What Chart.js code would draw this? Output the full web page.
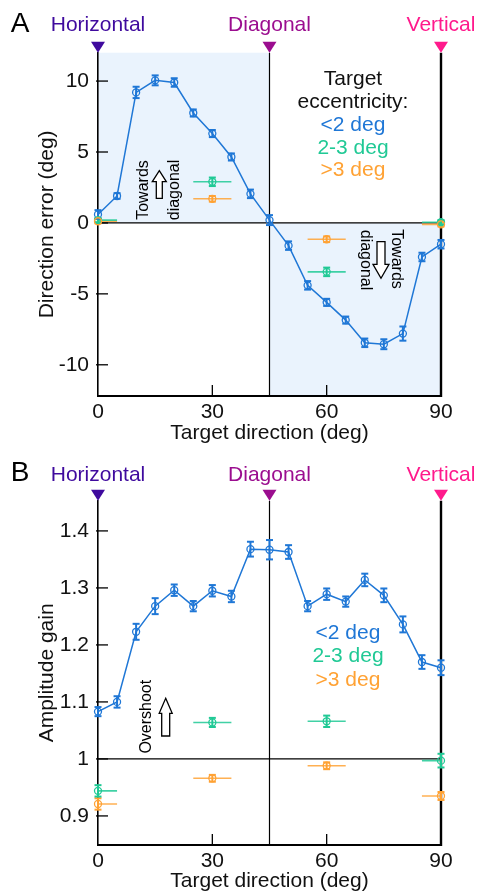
<!DOCTYPE html>
<html>
<head>
<meta charset="utf-8">
<title>Direction error and amplitude gain</title>
<script src="https://cdn.jsdelivr.net/npm/chart.js@4.4.1/dist/chart.umd.min.js"></script>
<style>
    html, body { margin: 0; padding: 0; background: #fff; }
    body { width: 478px; height: 895px; position: relative; overflow: hidden; }
    canvas { position: absolute; left: 0; }
    #chartA { top: 0; }
    #chartB { top: 448px; }
</style>
</head>
<body>
<canvas id="chartA" width="478" height="448"></canvas>
<canvas id="chartB" width="478" height="447"></canvas>
<script>
// target directions (deg): 5 deg bins for the near group, 4 bins for the far groups
const directions = [0, 5, 10, 15, 20, 25, 30, 35, 40, 45, 50, 55, 60, 65, 70, 75, 80, 85, 90];
const groupDirections = [0, 30, 60, 90];
const groupBinHalf = [5, 5, 5, 5];

// panel A - direction error (deg)
const dirErrNear = [0.6, 1.9, 9.2, 10.05, 9.9, 7.75, 6.3, 4.65, 2.05, 0.2, -1.6, -4.4, -5.6, -6.85, -8.45, -8.55, -7.8, -2.4, -1.5];
const dirErrNearSe = [0.3, 0.2, 0.4, 0.35, 0.3, 0.25, 0.25, 0.25, 0.3, 0.35, 0.3, 0.3, 0.25, 0.25, 0.3, 0.35, 0.5, 0.3, 0.3];
const dirErrMid = [0.2, 2.9, -3.45, 0.05];
const dirErrMidSe = [0.15, 0.3, 0.3, 0.15];
const dirErrFar = [0.12, 1.7, -1.15, -0.1];
const dirErrFarSe = [0.15, 0.2, 0.2, 0.15];

// panel B - amplitude gain
const gainNear = [1.083, 1.1, 1.223, 1.268, 1.296, 1.268, 1.295, 1.285, 1.368, 1.367, 1.363, 1.268, 1.289, 1.276, 1.314, 1.287, 1.236, 1.17, 1.16];
const gainNearSe = [0.008, 0.01, 0.014, 0.014, 0.01, 0.009, 0.01, 0.01, 0.013, 0.017, 0.012, 0.009, 0.01, 0.009, 0.011, 0.012, 0.014, 0.012, 0.013];
const gainMid = [0.944, 1.064, 1.066, 0.997];
const gainMidSe = [0.01, 0.008, 0.01, 0.012];
const gainFar = [0.921, 0.966, 0.988, 0.935];
const gainFarSe = [0.01, 0.006, 0.006, 0.007];

// tick labels
const dirTicks = [0, 30, 60, 90];
const errTicks = [-10, -5, 0, 5, 10];
const gainTicks = [0.9, 1, 1.1, 1.2, 1.3, 1.4];

const landmarkDirs = [0, 45, 90];
const landmarkNames = ['Horizontal', 'Diagonal', 'Vertical'];
const landmarkColors = ['#3f0a9e', '#9b0d8f', '#ff1a8c'];
const groupNames = ['<2 deg', '2-3 deg', '>3 deg'];
const groupColors = ['#1f77d6', '#20c995', '#ffa234'];

const FONT = '"Liberation Sans", Arial, Helvetica, sans-serif';
const INK = '#111';

function toPoints(xs, ys) {
    return xs.map((x, i) => ({x: x, y: ys[i]}));
}

function line(ctx, x0, y0, x1, y1) {
    ctx.beginPath();
    ctx.moveTo(x0, y0);
    ctx.lineTo(x1, y1);
    ctx.stroke();
}

// open block arrow, tip at tipY
function blockArrow(ctx, x, tipY, tailY, headHalf, shaftHalf, headLen) {
    const dir = tailY > tipY ? 1 : -1;
    const neck = tipY + dir * headLen;
    ctx.beginPath();
    ctx.moveTo(x, tipY);
    ctx.lineTo(x + headHalf, neck);
    ctx.lineTo(x + shaftHalf, neck);
    ctx.lineTo(x + shaftHalf, tailY);
    ctx.lineTo(x - shaftHalf, tailY);
    ctx.lineTo(x - shaftHalf, neck);
    ctx.lineTo(x - headHalf, neck);
    ctx.closePath();
    ctx.fillStyle = '#fff';
    ctx.fill();
    ctx.strokeStyle = '#000';
    ctx.lineWidth = 1.3;
    ctx.stroke();
}

function rotatedText(ctx, text, x, y, angle) {
    ctx.save();
    ctx.translate(x, y);
    ctx.rotate(angle);
    ctx.fillText(text, 0, 0);
    ctx.restore();
}

const panelDecor = {
    id: 'panelDecor',
    beforeDraw(chart, args, opts) {
        const ctx = chart.ctx;
        const xs = chart.scales.x, ys = chart.scales.y;
        ctx.save();
        ctx.fillStyle = '#eaf3fd';
        (opts.shade || []).forEach(r => {
            const x0 = xs.getPixelForValue(r[0]), x1 = xs.getPixelForValue(r[1]);
            const y0 = ys.getPixelForValue(r[2]), y1 = ys.getPixelForValue(r[3]);
            ctx.fillRect(x0, y1, x1 - x0, y0 - y1);
        });
        ctx.restore();
    },
    beforeDatasetsDraw(chart, args, opts) {
        const ctx = chart.ctx, area = chart.chartArea;
        const xs = chart.scales.x, ys = chart.scales.y;
        ctx.save();
        ctx.strokeStyle = '#000';

        // reference line (0 error / unit gain)
        ctx.lineWidth = 1.2;
        const yRef = ys.getPixelForValue(opts.refY);
        line(ctx, area.left, yRef, area.right, yRef);

        // diagonal and vertical markers
        line(ctx, xs.getPixelForValue(45), area.top, xs.getPixelForValue(45), area.bottom);
        ctx.lineWidth = 2.4;
        line(ctx, xs.getPixelForValue(90), area.top, xs.getPixelForValue(90), area.bottom + 1);

        // inward ticks
        ctx.lineWidth = 1.3;
        opts.yTicks.forEach(v => {
            const y = ys.getPixelForValue(v);
            line(ctx, area.left - 2, y, area.left + 10, y);
        });
        [30, 60].forEach(v => {
            const x = xs.getPixelForValue(v);
            line(ctx, x, area.bottom, x, area.bottom - 11);
        });

        // error bars
        chart.data.datasets.forEach(ds => {
            ds.data.forEach((p, i) => {
                const px = xs.getPixelForValue(p.x), py = ys.getPixelForValue(p.y);
                if (ds.xErr) {
                    ctx.save();
                    ctx.beginPath();
                    ctx.rect(area.left, area.top, area.right - area.left, area.bottom - area.top);
                    ctx.clip();
                    ctx.strokeStyle = ds.borderColor;
                    ctx.globalAlpha = 0.85;
                    ctx.lineWidth = 1.6;
                    line(ctx, xs.getPixelForValue(p.x - ds.xErr[i]), py, xs.getPixelForValue(p.x + ds.xErr[i]), py);
                    ctx.restore();
                }
                if (ds.yErr) {
                    const y0 = ys.getPixelForValue(p.y - ds.yErr[i]);
                    const y1 = ys.getPixelForValue(p.y + ds.yErr[i]);
                    ctx.strokeStyle = ds.borderColor;
                    ctx.lineWidth = 2;
                    line(ctx, px, y0, px, y1);
                    line(ctx, px - 3.5, y0, px + 3.5, y0);
                    line(ctx, px - 3.5, y1, px + 3.5, y1);
                }
            });
        });
        ctx.restore();
    },
    afterDraw(chart, args, opts) {
        const ctx = chart.ctx, area = chart.chartArea;
        const xs = chart.scales.x;
        ctx.save();
        ctx.textAlign = 'center';
        ctx.textBaseline = 'middle';

        // landmark triangles and names
        landmarkDirs.forEach((d, i) => {
            const x = xs.getPixelForValue(d);
            ctx.fillStyle = landmarkColors[i];
            ctx.beginPath();
            ctx.moveTo(x - 7, area.top - 11);
            ctx.lineTo(x + 7, area.top - 11);
            ctx.lineTo(x, area.top);
            ctx.closePath();
            ctx.fill();
            ctx.font = '21px ' + FONT;
            ctx.fillText(landmarkNames[i], x, opts.nameY);
        });

        // panel letter
        ctx.fillStyle = '#000';
        ctx.font = '28px ' + FONT;
        ctx.fillText(opts.letter, 20, opts.letterY);

        // group legend
        ctx.font = '21px ' + FONT;
        opts.legend.lines.forEach((t, i) => {
            ctx.fillStyle = t.color;
            ctx.fillText(t.text, opts.legend.x, opts.legend.y + i * opts.legend.step);
        });

        // annotations
        ctx.font = '16px ' + FONT;
        ctx.fillStyle = '#000';
        (opts.notes || []).forEach(n => rotatedText(ctx, n.text, n.x, n.y, n.angle));
        (opts.arrows || []).forEach(a => blockArrow(ctx, a.x, a.tip, a.tail, a.head, a.shaft, a.len));
        ctx.restore();
    }
};

function groupDatasets(near, nearSe, mid, midSe, far, farSe) {
    const base = {
        showLine: false,
        clip: false,
        pointStyle: 'circle',
        pointRadius: 3.5,
        pointBorderWidth: 1.3,
        pointBackgroundColor: 'rgba(255,255,255,0)'
    };
    return [
        Object.assign({}, base, {
            label: groupNames[2], data: toPoints(groupDirections, far),
            borderColor: groupColors[2], pointBorderColor: groupColors[2],
            yErr: farSe, xErr: groupBinHalf
        }),
        Object.assign({}, base, {
            label: groupNames[1], data: toPoints(groupDirections, mid),
            borderColor: groupColors[1], pointBorderColor: groupColors[1],
            yErr: midSe, xErr: groupBinHalf
        }),
        Object.assign({}, base, {
            label: groupNames[0], data: toPoints(directions, near),
            borderColor: groupColors[0], pointBorderColor: groupColors[0],
            showLine: true, borderWidth: 1.5, yErr: nearSe
        })
    ];
}

function makePanel(id, cfg) {
    const ctx = document.getElementById(id).getContext('2d');
    return new Chart(ctx, {
        type: 'scatter',
        data: {datasets: cfg.datasets},
        options: {
            responsive: false,
            animation: false,
            events: [],
            layout: {padding: {top: 52.7, right: 37, left: 0, bottom: 0}},
            plugins: {
                legend: {display: false},
                tooltip: {enabled: false},
                panelDecor: cfg.decor
            },
            scales: {
                x: {
                    type: 'linear',
                    min: 0,
                    max: 90,
                    afterBuildTicks: s => { s.ticks = dirTicks.map(v => ({value: v})); },
                    afterFit: s => { s.height = cfg.xHeight; },
                    grid: {display: false, drawTicks: false},
                    border: {display: true, color: '#000', width: 2},
                    ticks: {color: INK, font: {family: FONT, size: 21}, padding: 3.5, maxRotation: 0, autoSkip: false},
                    title: {display: true, text: 'Target direction (deg)', color: INK,
                        font: {family: FONT, size: 21}, padding: {top: 0, bottom: cfg.xTitlePad}}
                },
                y: {
                    type: 'linear',
                    min: cfg.yMin,
                    max: cfg.yMax,
                    afterBuildTicks: s => { s.ticks = cfg.yTicks.map(v => ({value: v})); },
                    afterFit: s => { s.width = 98; },
                    grid: {display: false, drawTicks: false},
                    border: {display: true, color: '#000', width: 1.6},
                    ticks: {color: INK, font: {family: FONT, size: 21}, padding: 9, autoSkip: false,
                        callback: v => String(v)},
                    title: {display: true, text: cfg.yTitle, color: INK,
                        font: {family: FONT, size: 21}, padding: {top: 34.4, bottom: 0}}
                }
            }
        },
        plugins: [panelDecor]
    });
}

makePanel('chartA', {
    datasets: groupDatasets(dirErrNear, dirErrNearSe, dirErrMid, dirErrMidSe, dirErrFar, dirErrFarSe),
    yMin: -12.2,
    yMax: 12,
    yTicks: errTicks,
    yTitle: 'Direction error (deg)',
    xHeight: 52,
    xTitlePad: 2,
    decor: {
        letter: 'A',
        letterY: 24,
        nameY: 25,
        refY: 0,
        yTicks: errTicks,
        shade: [[0, 45, 0, 12], [45, 90, -12.2, 0]],
        legend: {
            x: 353, y: 79.5, step: 22.8,
            lines: [{text: 'Target', color: INK}, {text: 'eccentricity:', color: INK}]
                .concat(groupNames.map((t, i) => ({text: t, color: groupColors[i]})))
        },
        notes: [
            {text: 'Towards', x: 143.3, y: 190, angle: -Math.PI / 2},
            {text: 'diagonal', x: 175, y: 190, angle: -Math.PI / 2},
            {text: 'Towards', x: 396.7, y: 259, angle: Math.PI / 2},
            {text: 'diagonal', x: 365, y: 260, angle: Math.PI / 2}
        ],
        arrows: [
            {x: 159.3, tip: 170.7, tail: 198.3, head: 7, shaft: 3, len: 11},
            {x: 381, tip: 278.3, tail: 241.7, head: 8, shaft: 4, len: 14}
        ]
    }
});

makePanel('chartB', {
    datasets: groupDatasets(gainNear, gainNearSe, gainMid, gainMidSe, gainFar, gainFarSe),
    yMin: 0.849,
    yMax: 1.453,
    yTicks: gainTicks,
    yTitle: 'Amplitude gain',
    xHeight: 50,
    xTitlePad: 0.7,
    decor: {
        letter: 'B',
        letterY: 25,
        nameY: 27,
        refY: 1,
        yTicks: gainTicks,
        legend: {
            x: 348, y: 185.3, step: 23.3,
            lines: groupNames.map((t, i) => ({text: t, color: groupColors[i]}))
        },
        notes: [
            {text: 'Overshoot', x: 146.7, y: 268.7, angle: -Math.PI / 2}
        ],
        arrows: [
            {x: 165.7, tip: 250.3, tail: 288, head: 6.5, shaft: 4, len: 15}
        ]
    }
});
</script>
</body>
</html>
